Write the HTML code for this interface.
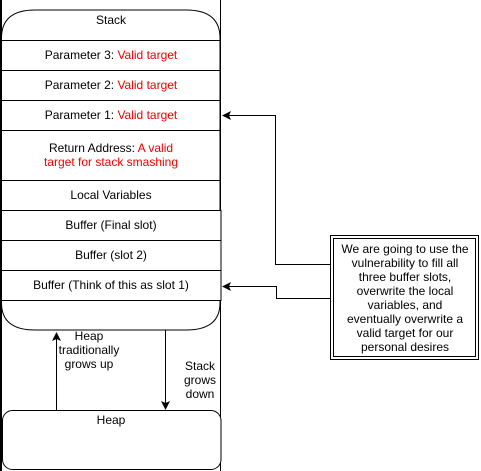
<!DOCTYPE html>
<html><head><style>body{margin:0;background:#fff}svg{display:block}</style></head><body>
<svg width="481" height="471" viewBox="0 0 481 471" xmlns="http://www.w3.org/2000/svg" font-family="Liberation Sans, sans-serif" font-size="12">
<rect x="0" y="0" width="481" height="471" fill="#fff"/>
<line x1="1" y1="0" x2="1" y2="471" stroke="#000" stroke-width="2"/>
<line x1="220.5" y1="0" x2="220.5" y2="471" stroke="#000"/>
<path d="M1.5 40 L1.5 38 Q1.5 10 35 10 L186 10 Q220 10 220 38 L220 40" fill="#fff" stroke="#000"/>
<path d="M1.5 300 L1.5 303 Q1.5 330 35 330 L186 330 Q220 330 220 303 L220 300" fill="#fff" stroke="#000"/>
<g fill="#fff" stroke="#000">
<rect x="1.5" y="40.5" width="218.5" height="30"/>
<rect x="1.5" y="70.5" width="218.5" height="30"/>
<rect x="1.5" y="100.5" width="218.5" height="30"/>
<rect x="1.5" y="130.5" width="218.5" height="50"/>
<rect x="1.5" y="180.5" width="218.5" height="30"/>
<rect x="1.5" y="210.5" width="219.5" height="30"/>
<rect x="1.5" y="240.5" width="219.5" height="30"/>
<rect x="1.5" y="270.5" width="219.5" height="30"/>
<rect x="2.5" y="410.5" width="218.5" height="59" rx="10"/>
</g>
<g text-anchor="middle" fill="#000">
<text x="111" y="24">Stack</text>
<text x="111" y="59">Parameter 3: <tspan fill="#e00">Valid target</tspan></text>
<text x="111" y="89">Parameter 2: <tspan fill="#e00">Valid target</tspan></text>
<text x="111" y="119">Parameter 1: <tspan fill="#e00">Valid target</tspan></text>
<text x="111" y="152">Return Address: <tspan fill="#e00">A valid</tspan></text>
<text x="111" y="166" fill="#e00">target for stack smashing</text>
<text x="111" y="199">Local Variables</text>
<text x="111" y="229">Buffer (Final slot)</text>
<text x="111" y="259">Buffer (slot 2)</text>
<text x="111" y="289">Buffer (Think of this as slot 1)</text>
<text x="111" y="424">Heap</text>
<text x="89" y="340">Heap</text>
<text x="89" y="354">traditionally</text>
<text x="89" y="368">grows up</text>
<text x="200" y="370">Stack</text>
<text x="200" y="384">grows</text>
<text x="200" y="398">down</text>
</g>
<g stroke="#000" fill="none">
<line x1="56.5" y1="410" x2="56.5" y2="338"/>
<line x1="165.5" y1="330" x2="165.5" y2="403"/>
<polyline points="330,264.5 275.5,264.5 275.5,115.5 228,115.5"/>
<polyline points="330,298.5 276.5,298.5 276.5,286.5 228,286.5"/>
<rect x="330.5" y="235.5" width="148" height="124"/>
<rect x="333.5" y="238.5" width="142" height="118"/>
</g>
<g fill="#000">
<path d="M56.5 332 L52 341 L56.5 339 L61 341 Z"/>
<path d="M165.5 410 L161 401 L165.5 403 L170 401 Z"/>
<path d="M222 115.5 L231 111 L229 115.5 L231 120 Z"/>
<path d="M222 286.5 L231 282 L229 286.5 L231 291 Z"/>
</g>
<g text-anchor="middle" fill="#000">
<text x="405" y="253">We are going to use the</text>
<text x="405" y="267">vulnerability to fill all</text>
<text x="405" y="281">three buffer slots,</text>
<text x="405" y="295">overwrite the local</text>
<text x="405" y="309">variables, and</text>
<text x="405" y="323">eventually overwrite a</text>
<text x="405" y="337">valid target for our</text>
<text x="405" y="351">personal desires</text>
</g>
</svg>
</body></html>
